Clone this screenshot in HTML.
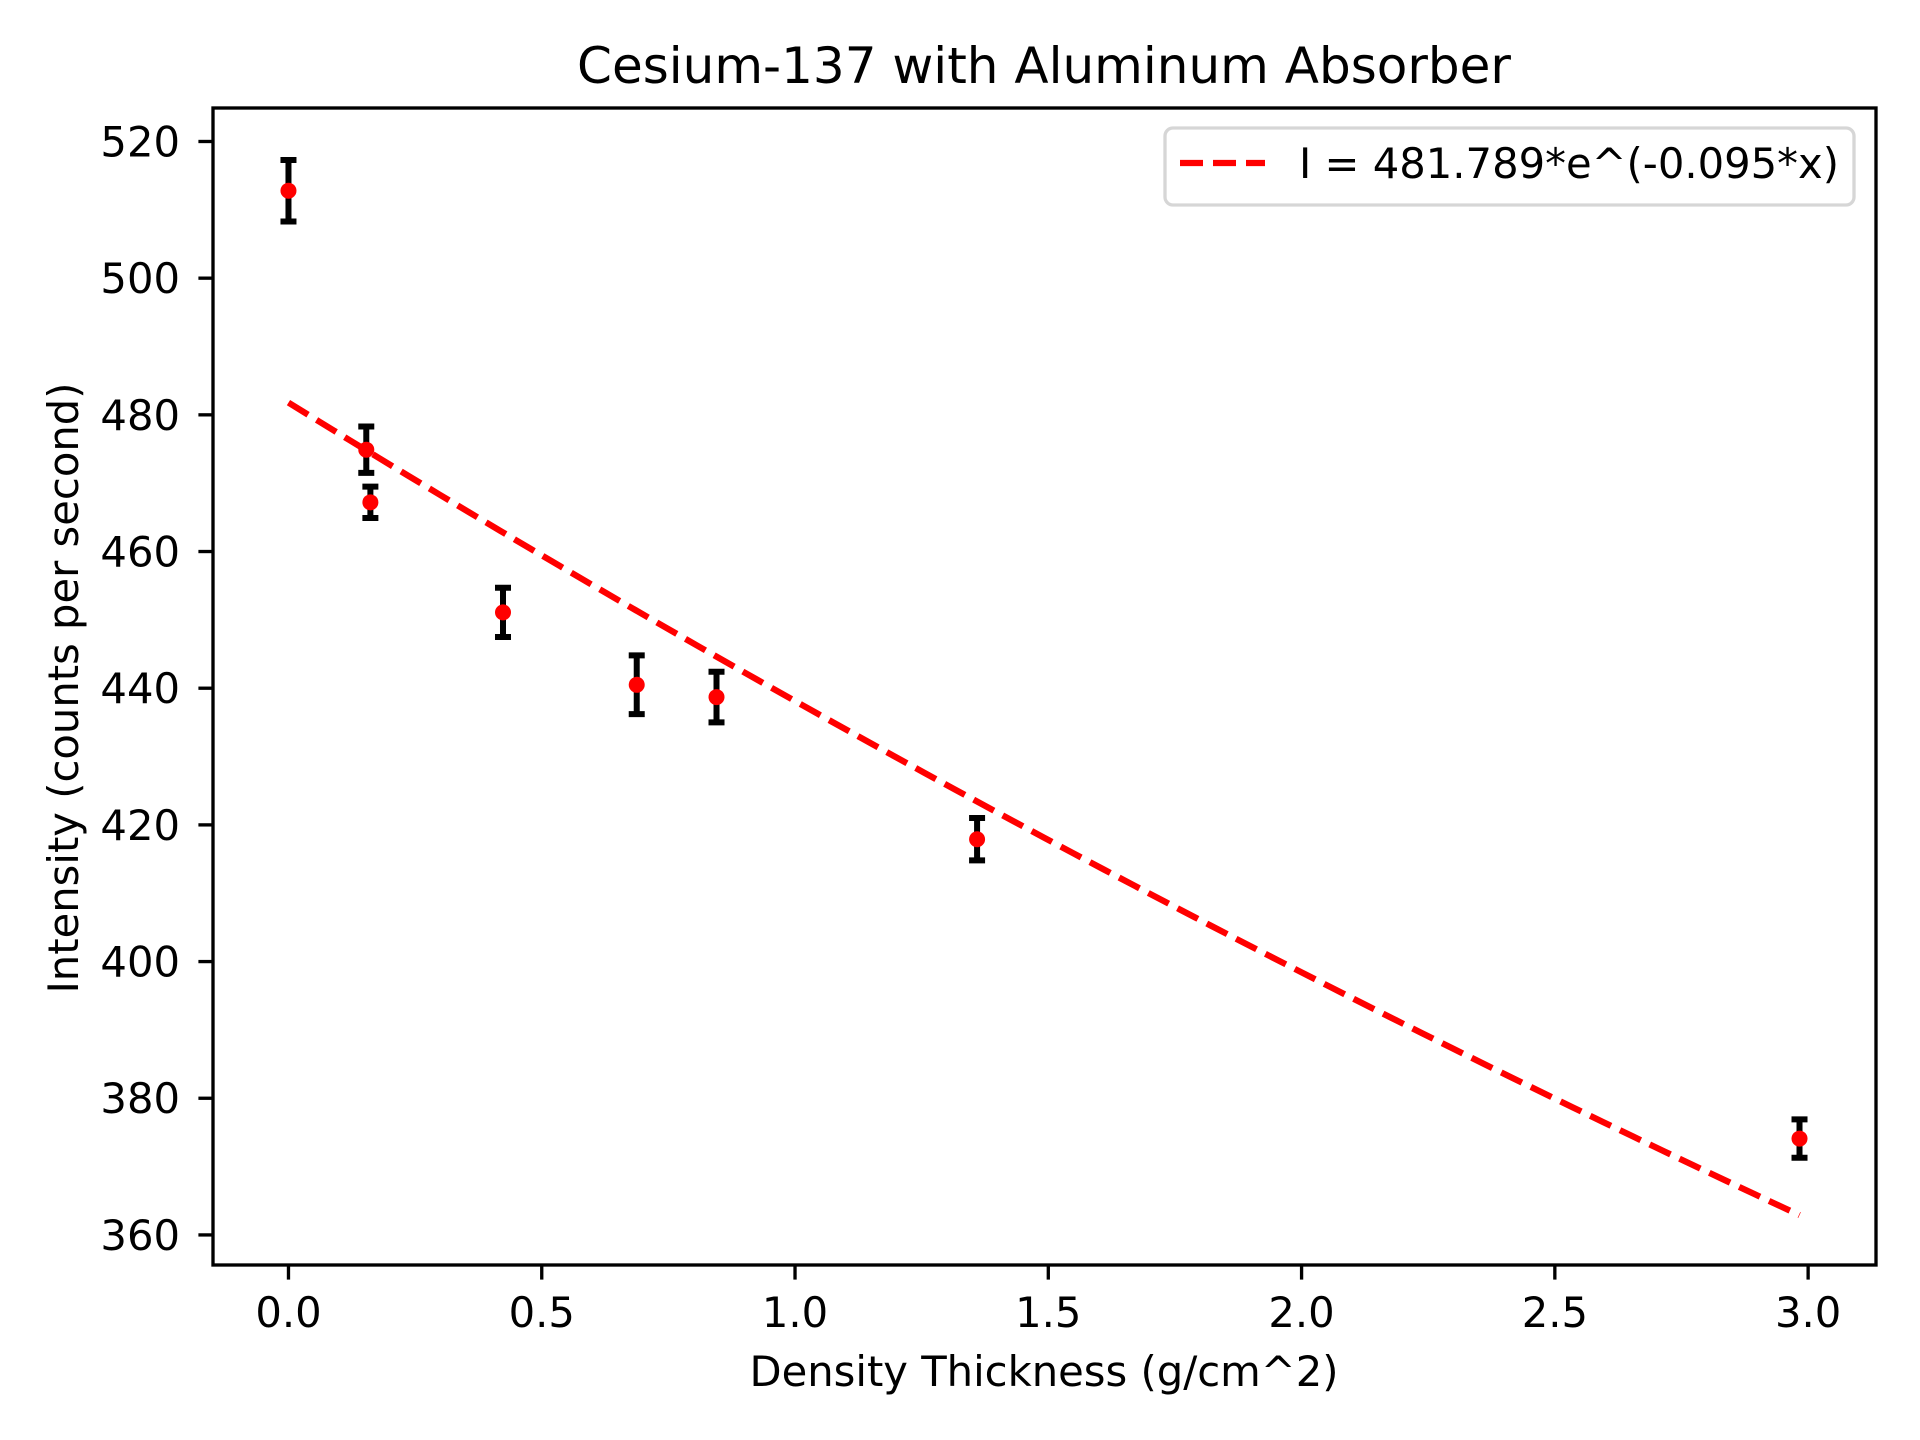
<!DOCTYPE html>
<html><head><meta charset="utf-8"><style>
html,body{margin:0;padding:0;background:#fff;}
svg{display:block;font-family:"DejaVu Sans","Liberation Sans",sans-serif;}
</style></head><body>
<svg id="chart" width="1920" height="1440" viewBox="0 0 1920 1440" xmlns="http://www.w3.org/2000/svg">
<rect x="0" y="0" width="1920" height="1440" fill="#fff"/>
<text x="1044" y="83" font-size="50" text-anchor="middle">Cesium-137 with Aluminum Absorber</text>
<text x="1044" y="1386" font-size="41.7" text-anchor="middle">Density Thickness (g/cm^2)</text>
<text transform="translate(78,688) rotate(-90)" font-size="41.7" text-anchor="middle">Intensity (counts per second)</text>
<g id="plot"></g>
<g id="axes"></g>
<g>
<rect x="1165" y="128" width="689" height="77" rx="8" fill="#fff" fill-opacity="0.8" stroke="#d6d6d6" stroke-width="3.3"/>
<line x1="1180" y1="163" x2="1265" y2="163" stroke="#ff0000" stroke-width="6.25" stroke-dasharray="23,10"/>
<text x="1299" y="178" font-size="41.7">I = 481.789*e^(-0.095*x)</text>
</g>
</svg>
<script>
const xValues = [0, 0.1536, 0.1617, 0.4235, 0.6875, 0.845, 1.3594, 2.983];
const yValues = [512.8, 474.9, 467.2, 451.1, 440.5, 438.7, 417.9, 374.1];
const yErrors = [4.5, 3.4, 2.3, 3.6, 4.3, 3.7, 3.1, 2.8];
const fitA = 481.789;
const fitB = -0.095;
const xTicks = [0, 0.5, 1, 1.5, 2, 2.5, 3];
const xTickLabels = ["0.0", "0.5", "1.0", "1.5", "2.0", "2.5", "3.0"];
const yTicks = [360, 380, 400, 420, 440, 460, 480, 500, 520];
const yTickLabels = ["360", "380", "400", "420", "440", "460", "480", "500", "520"];

const NS = "http://www.w3.org/2000/svg";
const L = 213, R = 1876, T = 108, B = 1265;
const xMin = -0.149, xMax = 3.134, yMin = 355.6, yMax = 524.9;
function sx(v){ return L + (v - xMin) / (xMax - xMin) * (R - L); }
function sy(v){ return B - (v - yMin) / (yMax - yMin) * (B - T); }
function mk(tag, attrs, parent){
  const e = document.createElementNS(NS, tag);
  for (const k in attrs) e.setAttribute(k, attrs[k]);
  parent.appendChild(e);
  return e;
}
const plot = document.getElementById('plot');
const axes = document.getElementById('axes');

const n = 100, x0 = xValues[0], x1 = xValues[xValues.length - 1];
let d = '';
for (let i = 0; i <= n; i++) {
  const xv = x0 + (x1 - x0) * i / n;
  const yv = fitA * Math.exp(fitB * xv);
  d += (i ? 'L' : 'M') + sx(xv).toFixed(2) + ' ' + sy(yv).toFixed(2);
}
const fit = mk('path', {d: d, fill: 'none', stroke: '#ff0000', 'stroke-width': 6.25, 'stroke-dasharray': '23,10'}, plot);



xValues.forEach((xv, i) => {
  const g = mk('g', {}, plot);
  
  
  const cx = sx(xv), ylo = sy(yValues[i] - yErrors[i]), yhi = sy(yValues[i] + yErrors[i]);
  const eb = mk('path', {d: `M${cx} ${ylo}L${cx} ${yhi}M${cx-8} ${ylo}L${cx+8} ${ylo}M${cx-8} ${yhi}L${cx+8} ${yhi}`, stroke: '#000', 'stroke-width': 6, fill: 'none'}, g);
  
  
  const c = mk('circle', {cx: cx, cy: sy(yValues[i]), r: 8, fill: '#ff0000'}, g);
  
  
});

const fr = mk('rect', {x: L, y: T, width: R - L, height: B - T, fill: 'none', stroke: '#000', 'stroke-width': 3.33}, axes);



xTicks.forEach((t, i) => {
  const x = sx(t);
  const tk = mk('line', {x1: x, y1: B, x2: x, y2: B + 14.6, stroke: '#000', 'stroke-width': 3.33}, axes);
  
  
  const tx = mk('text', {x: x, y: 1327, 'font-size': 41.7, 'text-anchor': 'middle'}, axes);
  tx.textContent = xTickLabels[i];
  
  
});
yTicks.forEach((t, i) => {
  const y = sy(t);
  const tk = mk('line', {x1: L - 14.6, y1: y, x2: L, y2: y, stroke: '#000', 'stroke-width': 3.33}, axes);
  
  
  const tx = mk('text', {x: 180, y: y + 15, 'font-size': 41.7, 'text-anchor': 'end'}, axes);
  tx.textContent = yTickLabels[i];
  
  
});
</script>
</body></html>
